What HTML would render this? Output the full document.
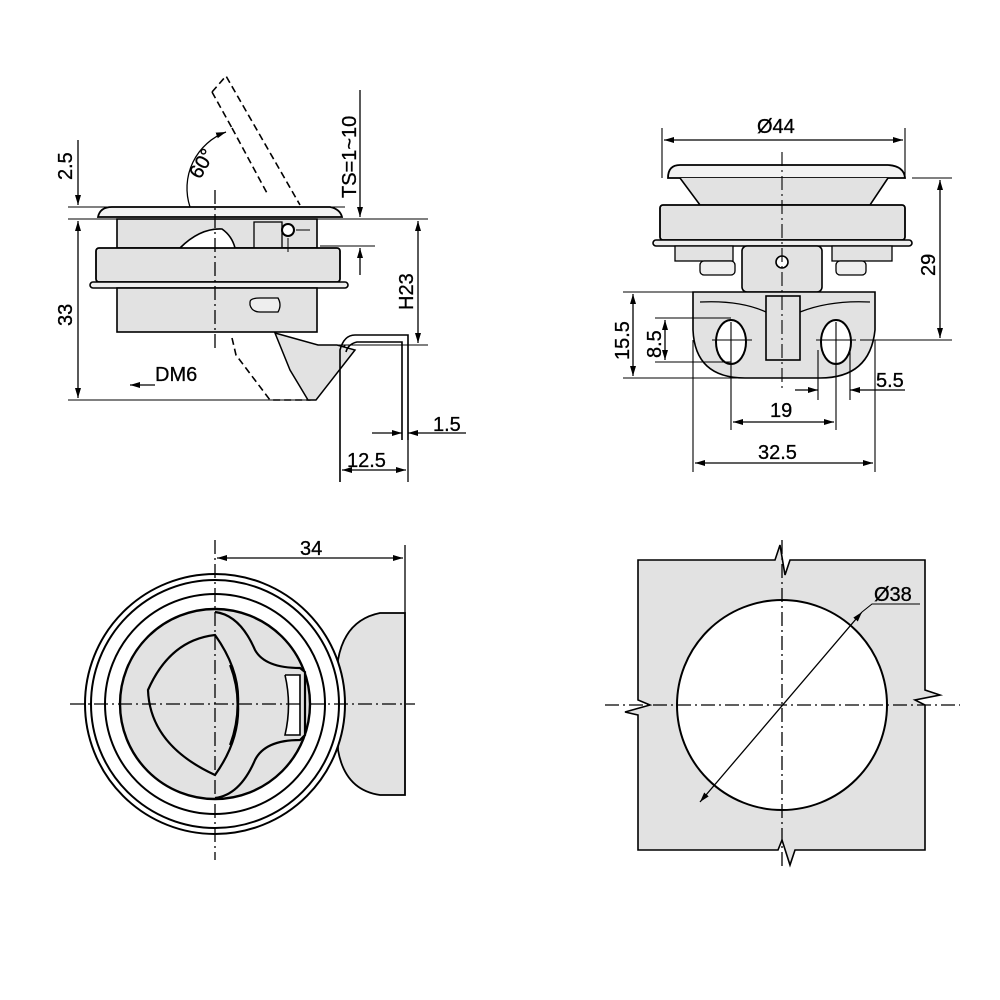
<!DOCTYPE html>
<html><head><style>html,body{margin:0;padding:0;background:#fff}svg{display:block}</style></head>
<body>
<svg width="1000" height="1000" viewBox="0 0 1000 1000" xmlns="http://www.w3.org/2000/svg" font-family="Liberation Sans, sans-serif">
<defs>
<marker id="a" viewBox="0 0 10 6" refX="10" refY="3" markerWidth="10" markerHeight="6" orient="auto-start-reverse" markerUnits="userSpaceOnUse"><path d="M0,0 L10,3 L0,6 z" fill="#000"/></marker>
</defs>
<g stroke="#000" stroke-width="1.3" fill="none">
<!-- ===== TOP LEFT ===== -->
<g stroke-dasharray="7,4" stroke-width="1.6">
<path d="M212,92 L226,76 L300,205"/>
<path d="M232,128 L268,195"/>
<path d="M212,92 L232,128"/>
<path d="M232,338 L236,355 L270,400 L310,400 L345,345"/>
</g>
<path d="M190,207 A60,60 0 0 1 226,132" marker-end="url(#a)"/>
<path d="M98,217 Q100,207 112,207 L330,207 Q340,209 342,217 Z" fill="#f2f2f2" stroke-width="1.8"/>
<rect x="117" y="219" width="200" height="29" fill="#e2e2e2" stroke-width="1.6"/>
<path d="M180,248 Q200,228 222,229 Q232,236 235,248" fill="#fff" stroke-width="1.6"/>
<rect x="254" y="222" width="28" height="26" fill="#e2e2e2"/>
<circle cx="288" cy="230" r="6" stroke-width="2" fill="#fff"/>
<rect x="96" y="248" width="244" height="34" rx="3" fill="#e2e2e2" stroke-width="1.8"/>
<rect x="90" y="282" width="258" height="6" rx="3" fill="#eee" stroke-width="1.6"/>
<rect x="117" y="288" width="200" height="44" fill="#e2e2e2" stroke-width="1.6"/>
<path d="M250,302 Q250,298 260,298 L278,298 Q282,305 278,312 L260,312 Q252,312 250,305 Z" fill="#eee"/>
<path d="M275,333 L318,345 L337,345 L355,350 L316,400 L308,400 L290,370 Z" fill="#e2e2e2" stroke-width="1.5"/>
<!-- bracket -->
<path d="M340,482 L340,350 Q344,335 355,335 L408,335 L408,440" stroke-width="1.6"/>
<path d="M402,440 L402,342 L357,342 Q348,344 346,352" stroke-width="1.6"/>
<path d="M215,190 L215,352" stroke-dasharray="14,4,2,4"/>
<path d="M68,207 L345,207 M68,219 L428,219 M320,246 L375,246 M330,345 L428,345 M68,400 L315,400" stroke-width="1.1"/>
<path d="M78,140 L78,205" marker-end="url(#a)"/>
<path d="M78,221 L78,398" marker-start="url(#a)" marker-end="url(#a)"/>
<path d="M360,90 L360,217" marker-end="url(#a)"/>
<path d="M360,275 L360,248" marker-end="url(#a)"/>
<path d="M418,221 L418,343" marker-start="url(#a)" marker-end="url(#a)"/>
<path d="M155,385 L130,385" marker-end="url(#a)"/>
<path d="M372,433 L402,433" marker-end="url(#a)"/>
<path d="M466,433 L408,433" marker-end="url(#a)"/>
<path d="M408,440 L408,482"/>
<path d="M342,470 L406,470" marker-start="url(#a)" marker-end="url(#a)"/>
<path d="M296,230 L310,230 M288,238 L288,252" stroke-width="1"/>

<!-- ===== TOP RIGHT ===== -->
<path d="M662,128 L662,178 M905,128 L905,178" stroke-width="1.1"/>
<path d="M664,140 L903,140" marker-start="url(#a)" marker-end="url(#a)"/>
<path d="M668,178 Q668,165 680,165 L888,165 Q904,166 905,178 Z" fill="#f2f2f2" stroke-width="1.8"/>
<path d="M680,178 L700,205 L870,205 L888,178" fill="#e2e2e2" stroke-width="1.6"/>
<rect x="660" y="205" width="245" height="35" rx="3" fill="#e2e2e2" stroke-width="1.8"/>
<rect x="653" y="240" width="259" height="6" rx="3" fill="#eee" stroke-width="1.6"/>
<rect x="675" y="246" width="58" height="15" fill="#e2e2e2"/>
<rect x="700" y="261" width="35" height="14" rx="4" fill="#eee"/>
<rect x="832" y="246" width="60" height="15" fill="#e2e2e2"/>
<rect x="836" y="261" width="30" height="14" rx="4" fill="#eee"/>
<rect x="742" y="246" width="80" height="46" rx="5" fill="#e2e2e2" stroke-width="1.6"/>
<circle cx="782" cy="262" r="6" fill="#fff" stroke-width="1.6"/>
<path d="M693,292 L875,292 L875,330 Q870,378 820,378 L745,378 Q695,378 693,330 Z" fill="#e2e2e2" stroke-width="1.6"/>
<path d="M700,302 Q740,300 766,312 M800,312 Q830,300 870,302" stroke-width="1.3"/>
<rect x="766" y="296" width="34" height="64" fill="#e2e2e2" stroke-width="1.6"/>
<ellipse cx="731" cy="342" rx="15" ry="22" fill="#fff" stroke-width="2"/>
<ellipse cx="836" cy="342" rx="15" ry="22" fill="#fff" stroke-width="2"/>
<path d="M782,152 L782,390" stroke-dasharray="14,4,2,4" stroke-width="1.1"/>
<path d="M712,340 L752,340 M731,322 L731,430 M816,340 L856,340 M836,322 L836,430 M818,350 L818,400 M850,350 L850,400" stroke-width="1.1"/>
<path d="M912,178 L952,178 M860,340 L952,340" stroke-width="1.1"/>
<path d="M940,180 L940,338" marker-start="url(#a)" marker-end="url(#a)"/>
<path d="M623,292 L700,292 M623,378 L745,378 M655,318 L731,318 M655,362 L731,362" stroke-width="1.1"/>
<path d="M633,294 L633,376" marker-start="url(#a)" marker-end="url(#a)"/>
<path d="M665,320 L665,360" marker-start="url(#a)" marker-end="url(#a)"/>
<path d="M693,340 L693,472 M875,340 L875,472" stroke-width="1.1"/>
<path d="M733,422 L834,422" marker-start="url(#a)" marker-end="url(#a)"/>
<path d="M695,463 L873,463" marker-start="url(#a)" marker-end="url(#a)"/>
<path d="M795,390 L818,390" marker-end="url(#a)"/>
<path d="M905,390 L850,390" marker-end="url(#a)"/>

<!-- ===== BOTTOM LEFT ===== -->
<path d="M405,613 L380,613 Q345,620 338,660 L338,750 Q345,790 380,795 L405,795 Z" fill="#e2e2e2" stroke-width="1.8"/>
<circle cx="215" cy="704" r="130" fill="#fff" stroke-width="2"/>
<circle cx="215" cy="704" r="124" fill="#fff" stroke-width="2"/>
<circle cx="215" cy="704" r="110" fill="#fff" stroke-width="2"/>
<circle cx="215" cy="704" r="95" fill="#e2e2e2" stroke-width="2.4"/>
<path d="M215,612 Q240,615 255,650 Q265,668 300,668 L305,672 L305,735 L300,740 Q265,740 255,760 Q240,795 215,798" fill="#e2e2e2" stroke-width="2.2"/>
<path d="M285,675 L300,675 L300,735 L285,735 Q292,705 285,675" fill="#fff" stroke-width="1.6"/>
<path d="M215,635 Q170,640 148,690 Q150,745 215,775 Q240,740 238,704 Q240,670 215,635 Z" fill="#e2e2e2" stroke-width="2.2"/>
<path d="M230,665 Q245,704 230,745" stroke-width="2"/>
<path d="M215,540 L215,860" stroke-dasharray="14,4,2,4" stroke-width="1.3"/>
<path d="M70,704 L415,704" stroke-dasharray="14,4,2,4" stroke-width="1.3"/>
<path d="M405,545 L405,613" stroke-width="1.3"/>
<path d="M217,558 L403,558" marker-start="url(#a)" marker-end="url(#a)"/>

<!-- ===== BOTTOM RIGHT ===== -->
<path d="M638,560 L775,560 L780,545 L785,575 L790,560 L925,560 L925,690 L940,695 L915,700 L925,705 L925,850 L795,850 L790,865 L782,840 L778,850 L638,850 L638,715 L625,712 L650,705 L638,700 Z" fill="#e2e2e2" stroke-width="1.6"/>
<circle cx="782" cy="705" r="105" fill="#fff" stroke-width="2"/>
<path d="M782,540 L782,870" stroke-dasharray="14,4,2,4" stroke-width="1.3"/>
<path d="M605,705 L960,705" stroke-dasharray="14,4,2,4" stroke-width="1.3"/>
<path d="M700,802 L862,612" marker-start="url(#a)" marker-end="url(#a)"/>
<path d="M862,612 L872,604 L920,604" stroke-width="1.1"/>
</g>
<g font-size="20" fill="#000" stroke="#000" stroke-width="0.3">
<text x="72" y="180" transform="rotate(-90 72 180)">2.5</text>
<text x="72" y="326" transform="rotate(-90 72 326)">33</text>
<text x="200" y="180" transform="rotate(-60 200 180)">60°</text>
<text x="356" y="198" transform="rotate(-90 356 198)">TS=1~10</text>
<text x="413" y="310" transform="rotate(-90 413 310)">H23</text>
<text x="155" y="381">DM6</text>
<text x="433" y="431">1.5</text>
<text x="347" y="467">12.5</text>
<text x="757" y="133">Ø44</text>
<text x="935" y="276" transform="rotate(-90 935 276)">29</text>
<text x="629" y="360" transform="rotate(-90 629 360)">15.5</text>
<text x="661" y="358" transform="rotate(-90 661 358)">8.5</text>
<text x="876" y="387">5.5</text>
<text x="770" y="417">19</text>
<text x="758" y="459">32.5</text>
<text x="300" y="555">34</text>
<text x="874" y="601">Ø38</text>
</g>
</svg>
</body></html>
